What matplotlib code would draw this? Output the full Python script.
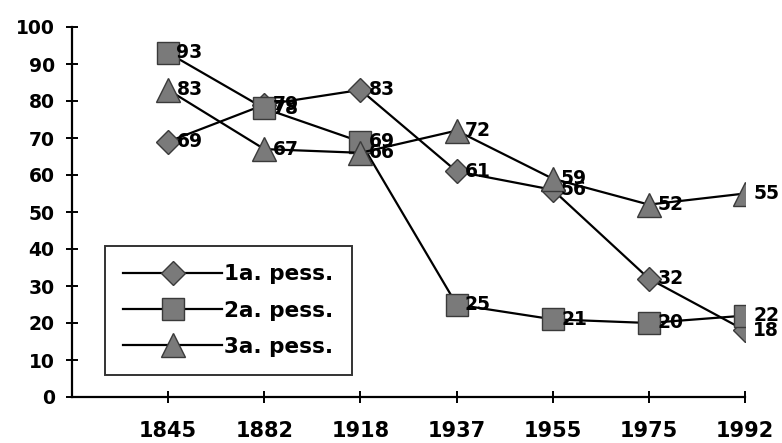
import matplotlib.pyplot as plt
import numpy as np

years = ['1845', '1882', '1918', '1937', '1955', '1975', '1992']
pess1 = [69, 79, 83, 61, 56, 32, 18]
pess2 = [93, 78, 69, 25, 21, 20, 22]
pess3 = [83, 67, 66, 72, 59, 52, 55]
labels = ['1a. pess.', '2a. pess.', '3a. pess.']

plt.rcParams['font.family'] = ['DejaVu Sans']
plt.rcParams['font.weight'] = 'bold'

fig = plt.figure(figsize=(7.82, 4.43), dpi=100)
ax = fig.add_axes([72 / 782, 1 - 397 / 443, (745 - 72) / 782, (397 - 27) / 443])

x = np.arange(len(years))
series = [(pess1, 'D', 12.5), (pess2, 's', 16), (pess3, '^', 17)]
for (vals, mk, ms), lab in zip(series, labels):
    ax.plot(x, vals, color='black', lw=1.6, marker=mk, markersize=ms,
            markerfacecolor='#7a7a7a', markeredgecolor='#3a3a3a',
            markeredgewidth=1, label=lab)
    for xi, v in zip(x, vals):
        ax.annotate(str(v), (xi, v), xytext=(6, 0), textcoords='offset points',
                    ha='left', va='center', fontsize=13.5, fontweight='bold')

ax.set_xlim(-1, len(years) - 1)
ax.set_ylim(0, 100)
ax.set_yticks(range(0, 101, 10))
ax.set_xticks(x)
ax.set_xticklabels(years)
ax.tick_params(axis='both', direction='inout', length=9, width=1.4)
ax.tick_params(axis='y', labelsize=13.5, pad=8)
ax.tick_params(axis='x', labelsize=15, pad=13)
for s in ['top', 'right']:
    ax.spines[s].set_visible(False)
for s in ['left', 'bottom']:
    ax.spines[s].set_linewidth(1.6)

leg = ax.legend(loc='lower left', bbox_to_anchor=(0.049, 0.059), fontsize=15.5,
                frameon=True, fancybox=False, edgecolor='black',
                handlelength=4.6, borderpad=0.85, labelspacing=0.76,
                handletextpad=0.1, borderaxespad=0)
leg.get_frame().set_linewidth(1.4)

fig.savefig('out.png', dpi=100)
